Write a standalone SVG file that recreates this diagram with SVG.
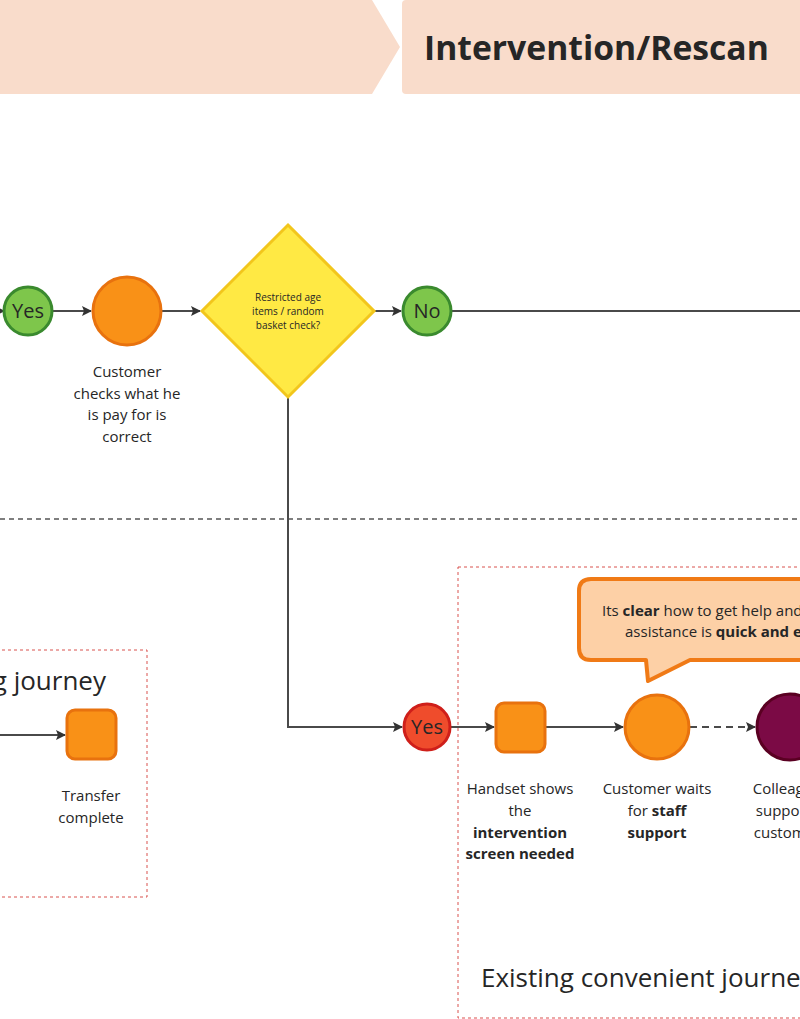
<svg xmlns="http://www.w3.org/2000/svg" width="800" height="1019" viewBox="0 0 800 1019">
<defs>
<style>
.t{font-family:"Open Sans","Liberation Sans",sans-serif;fill:#262626}
.lbl{font-size:15px;text-anchor:middle}
.b{font-weight:bold}
.con{stroke:#4a4a4a;stroke-width:2;fill:none}
.orange{fill:#f99117;stroke:#e8720e;stroke-width:3}
.green{fill:#7ec64b;stroke:#3a8a2e;stroke-width:3}
.zone{fill:none;stroke:#d9534f;stroke-width:1;stroke-dasharray:3,3}
</style>
<marker id="ah" viewBox="0 0 10 10" refX="9" refY="5" markerWidth="5" markerHeight="5" orient="auto">
<path d="M0,0 L10,5 L0,10 L2,5 z" fill="#333"/>
</marker>
</defs>
<rect width="800" height="1019" fill="#fff"/>
<g id="banner">
<path d="M0,0 H372 L400,47 L372,94 H0 z" fill="#f9dccb"/>
<rect x="402" y="0" width="410" height="94" rx="4" fill="#f9dccb"/>
<text class="t b" x="424" y="60" font-size="33.7">Intervention/Rescan</text>
</g>
<g id="zones">
<rect class="zone" x="-10" y="650" width="157" height="247"/>
<text class="t" x="106" y="690" font-size="26" text-anchor="end">g journey</text>
<rect class="zone" x="458" y="567" width="360" height="451"/>
<text class="t" x="481" y="987" font-size="26">Existing convenient journey</text>
</g>
<line x1="0" y1="519" x2="800" y2="519" stroke="#555" stroke-width="1.5" stroke-dasharray="5,4"/>
<g id="connectors">
<line class="con" x1="0" y1="311" x2="4" y2="311" marker-end="url(#ah)"/>
<line class="con" x1="53" y1="311" x2="91" y2="311" marker-end="url(#ah)"/>
<line class="con" x1="162" y1="311" x2="200" y2="311" marker-end="url(#ah)"/>
<line class="con" x1="374" y1="311" x2="401" y2="311" marker-end="url(#ah)"/>
<line class="con" x1="452" y1="311" x2="800" y2="311"/>
<path class="con" d="M288,397 V727 H402" marker-end="url(#ah)"/>
<line class="con" x1="451" y1="727" x2="494" y2="727" marker-end="url(#ah)"/>
<line class="con" x1="546" y1="727" x2="623" y2="727" marker-end="url(#ah)"/>
<line class="con" x1="690" y1="727" x2="755" y2="727" stroke-dasharray="7,5" marker-end="url(#ah)"/>
<line class="con" x1="0" y1="735" x2="65" y2="735" marker-end="url(#ah)"/>
</g>
<g id="yes1">
<circle class="green" cx="28" cy="311" r="24"/>
<text class="t" x="28" y="318" font-size="20" text-anchor="middle">Yes</text>
</g>
<g id="check">
<circle class="orange" cx="127" cy="311" r="34"/>
<text class="t lbl" x="127" y="377">Customer</text>
<text class="t lbl" x="127" y="399">checks what he</text>
<text class="t lbl" x="127" y="420">is pay for is</text>
<text class="t lbl" x="127" y="442">correct</text>
</g>
<g id="decision">
<path d="M288,225 L374,311 L288,397 L202,311 z" fill="#ffe944" stroke="#f2c61c" stroke-width="3"/>
<text class="t" font-size="10" text-anchor="middle"><tspan x="288" y="301">Restricted age</tspan><tspan x="288" y="315">items / random</tspan><tspan x="288" y="329">basket check?</tspan></text>
</g>
<g id="no">
<circle class="green" cx="427" cy="311" r="24"/>
<text class="t" x="427" y="318" font-size="20" text-anchor="middle">No</text>
</g>
<g id="transfer">
<rect class="orange" x="67" y="710" width="49" height="49" rx="8"/>
<text class="t lbl" x="91" y="801">Transfer</text>
<text class="t lbl" x="91" y="823">complete</text>
</g>
<g id="bubble">
<path d="M591,579 H820 V660 H690 L648,681 L646,660 H591 Q579,660 579,648 V591 Q579,579 591,579 z" fill="#fdd0a6" stroke="#f07a16" stroke-width="4" stroke-linejoin="round"/>
<text class="t" x="602" y="616" font-size="15">Its <tspan class="b">clear</tspan> how to get help and</text>
<text class="t" x="625" y="637" font-size="15">assistance is <tspan class="b">quick and easy</tspan></text>
</g>
<g id="yes2">
<circle cx="427" cy="727" r="23" fill="#ef4c2c" stroke="#cf1f1a" stroke-width="3"/>
<text class="t" x="427" y="734" font-size="20" text-anchor="middle">Yes</text>
</g>
<g id="handset">
<rect class="orange" x="496" y="703" width="49" height="49" rx="8"/>
<text class="t lbl" x="520" y="794">Handset shows</text>
<text class="t lbl" x="520" y="816">the</text>
<text class="t lbl b" x="520" y="838">intervention</text>
<text class="t lbl b" x="520" y="859">screen needed</text>
</g>
<g id="wait">
<circle class="orange" cx="657" cy="727" r="32"/>
<text class="t lbl" x="657" y="794">Customer waits</text>
<text class="t lbl" x="657" y="816">for <tspan class="b">staff</tspan></text>
<text class="t lbl b" x="657" y="838">support</text>
</g>
<g id="colleague">
<circle cx="790" cy="727" r="33" fill="#7b0a45" stroke="#5a0022" stroke-width="3"/>
<text class="t lbl" x="787" y="794">Colleague</text>
<text class="t lbl" x="787" y="816">supports</text>
<text class="t lbl" x="787" y="838">customer</text>
</g>
</svg>
